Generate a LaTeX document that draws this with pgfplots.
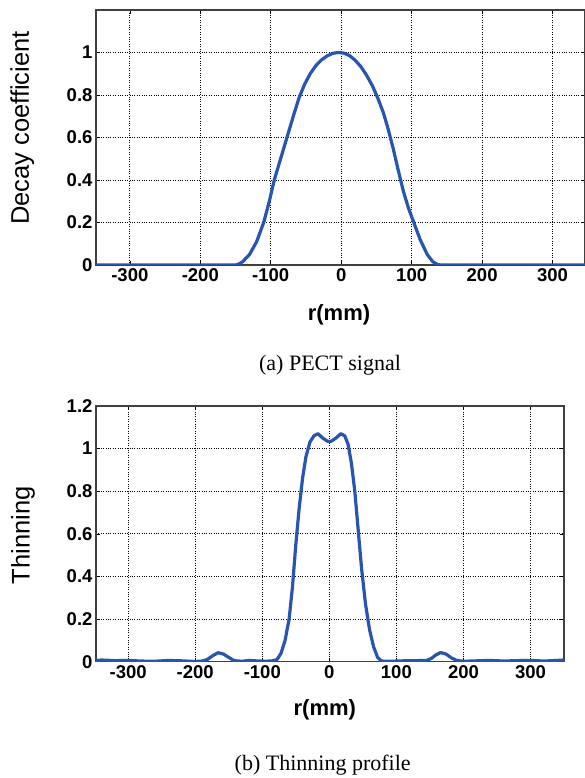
\documentclass[border=0pt]{standalone}
\usepackage{fontspec}
\setmainfont{Liberation Sans}
\newfontfamily\capfont{Liberation Serif}
\usepackage{pgfplots}
\pgfplotsset{compat=1.18}

\definecolor{curve}{RGB}{40,85,175}

\pgfplotsset{
  panel/.style={
    scale only axis,
    xmin=-348,
    ymin=0, ymax=1.2,
    xtick={-300,-200,-100,0,100,200,300},
    xticklabels={-300,-200,-100,0,100,200,300},
    grid=major,
    grid style={black, dotted, line width=0.8pt},
    axis line style={black!75, line width=1.2pt},
    tick align=inside,
    major tick length=4pt,
    tick style={black, line width=0.6pt},
    ticklabel style={font=\bfseries\fontsize{18.5}{18.5}\selectfont},
    xlabel style={font=\bfseries\fontsize{22}{22}\selectfont, anchor=center},
    ylabel style={font=\fontsize{25.5}{25.5}\selectfont, anchor=center},
  },
  curvestyle/.style={curve, line width=3.2pt, line join=round},
}

\begin{document}
\begin{tikzpicture}
\path[use as bounding box] (0pt,0pt) rectangle (585pt,778pt);

% (a) PECT signal
\begin{axis}[panel,
  at={(96pt,513pt)}, anchor=south west,
  width=489pt, height=255pt,
  xmax=346,
  ytick={0,0.2,0.4,0.6,0.8,1},
  yticklabels={0,0.2,0.4,0.6,0.8,1},
  xlabel={r(mm)},
  xlabel style={at={(axis description cs:0.497,-0.196)}},
  ylabel={Decay coefficient},
  ylabel style={at={(axis description cs:-0.151,0.537)}},
]
\addplot[curvestyle] coordinates {
  (-348,0) (-150,0) (-145,0.005) (-140,0.015) (-130,0.05) (-120,0.11)
  (-110,0.2) (-102,0.3) (-95,0.4) (-86,0.5) (-77,0.6) (-68,0.7)
  (-60,0.785) (-52,0.85) (-44,0.9) (-36,0.938) (-28,0.965) (-20,0.984)
  (-12,0.996) (-4,1.0) (4,0.997) (12,0.985) (20,0.963) (28,0.933)
  (36,0.893) (44,0.845) (52,0.785) (60,0.715) (67,0.635) (74,0.545)
  (81,0.445) (88,0.35) (95,0.272) (103,0.2) (112,0.12) (122,0.05)
  (130,0.015) (137,0.002) (142,0) (346,0)
};
\end{axis}

\node[font=\capfont\fontsize{22}{22}\selectfont] at (330pt,413pt) {(a) PECT signal};

% (b) Thinning profile
\begin{axis}[panel,
  at={(96pt,116.3pt)}, anchor=south west,
  width=468pt, height=255.7pt,
  xmax=350,
  ytick={0,0.2,0.4,0.6,0.8,1,1.2},
  yticklabels={0,0.2,0.4,0.6,0.8,1,1.2},
  xlabel={r(mm)},
  xlabel style={at={(axis description cs:0.489,-0.189)}},
  ylabel={Thinning},
  ylabel style={at={(axis description cs:-0.156,0.495)}},
]
\addplot[curvestyle] coordinates {
  (-348,0.005) (-340,0.008) (-320,0.005) (-300,0.006) (-280,0.003)
  (-260,0.002) (-240,0.006) (-220,0.004) (-200,0.001) (-190,0.003)
  (-182,0.01) (-174,0.028) (-166,0.042) (-158,0.036) (-150,0.02)
  (-142,0.005) (-130,0.002) (-120,0.006) (-110,0.004) (-95,0.002)
  (-85,0.004) (-78,0.01) (-72,0.04) (-66,0.1) (-60,0.2) (-55,0.35)
  (-50,0.55) (-45,0.72) (-40,0.86) (-35,0.96) (-29,1.03) (-23,1.06)
  (-17,1.07) (-10,1.05) (-3,1.035) (0,1.033) (3,1.035) (10,1.05)
  (17,1.07) (23,1.06) (28,1.02) (33,0.93) (38,0.8) (43,0.62)
  (48,0.44) (54,0.27) (60,0.15) (66,0.07) (72,0.02) (78,0.003)
  (90,0.002) (110,0.004) (130,0.005) (145,0.006) (152,0.015)
  (159,0.032) (166,0.043) (174,0.036) (182,0.018) (190,0.006)
  (200,0.002) (220,0.004) (240,0.006) (260,0.003) (280,0.005)
  (300,0.006) (320,0.003) (340,0.006) (350,0.008)
};
\end{axis}

\node[font=\capfont\fontsize{22}{22}\selectfont] at (322.7pt,13pt) {(b) Thinning profile};
\end{tikzpicture}
\end{document}
